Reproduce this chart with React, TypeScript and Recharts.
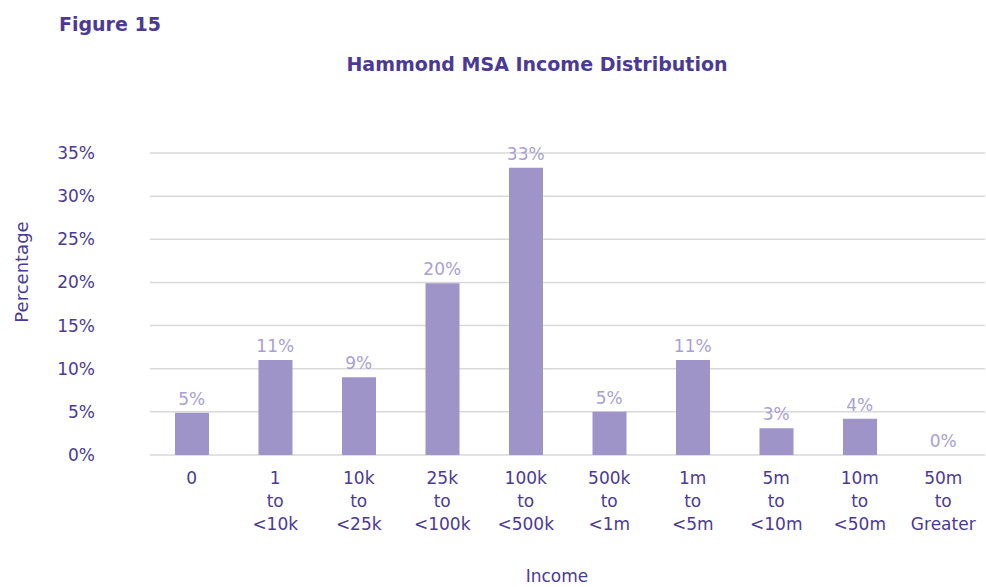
import { ComposedChart, Bar, Line, XAxis, YAxis, CartesianGrid, LabelList } from 'recharts'

const categories = [
  '0',
  '1|to|<10k',
  '10k|to|<25k',
  '25k|to|<100k',
  '100k|to|<500k',
  '500k|to|<1m',
  '1m|to|<5m',
  '5m|to|<10m',
  '10m|to|<50m',
  '50m|to|Greater',
]
const percentages = [4.9, 11.0, 9.0, 19.9, 33.3, 5.0, 11.0, 3.1, 4.2, 0]
const yTicks = [0, 5, 10, 15, 20, 25, 30, 35]

const data = categories.map((c, i) => ({ name: c, value: percentages[i] }))

const dark = '#4b3a94'
const barColor = '#9e94c7'
const labelColor = '#a9a0d2'
const font = '"DejaVu Sans", "Noto Sans", sans-serif'

function MultiLineTick(props: any) {
  const { x, y, payload } = props
  const lines = String(payload.value).split('|')
  return (
    <text x={x} y={y} textAnchor="middle" fill={dark} fontSize={17} fontFamily={font}>
      {lines.map((l, i) => (
        <tspan key={i} x={x} dy={i === 0 ? 21 : 23}>
          {l}
        </tspan>
      ))}
    </text>
  )
}

export default function App() {
  return (
    <div style={{ position: 'relative', width: 986, height: 587, fontFamily: font, background: '#fff' }}>
      <style>{`body{margin:0}`}</style>
      <div style={{ position: 'absolute', left: 59, top: 13, fontSize: 19, fontWeight: 700, color: dark }}>
        Figure 15
      </div>
      <div
        style={{
          position: 'absolute',
          left: 0,
          width: 1074,
          top: 53,
          textAlign: 'center',
          fontSize: 19,
          fontWeight: 700,
          color: dark,
        }}
      >
        Hammond MSA Income Distribution
      </div>
      <div
        style={{
          position: 'absolute',
          left: 0,
          width: 1114,
          top: 566,
          textAlign: 'center',
          fontSize: 17,
          color: dark,
        }}
      >
        Income
      </div>
      <div
        style={{
          position: 'absolute',
          left: 21,
          top: 272,
          transform: 'translate(-50%, -50%) rotate(-90deg)',
          fontSize: 18,
          color: dark,
          whiteSpace: 'nowrap',
        }}
      >
        Percentage
      </div>
      <ComposedChart
        width={986}
        height={587}
        data={data}
        margin={{ top: 153, right: 1, bottom: 0, left: 0 }}
        barSize={34}
        style={{ position: 'absolute', left: 0, top: 0 }}
      >
        <CartesianGrid vertical={false} stroke="#d9d9d9" strokeWidth={1.5} />
        <XAxis
          dataKey="name"
          height={132}
          axisLine={false}
          tickLine={false}
          interval={0}
          tick={<MultiLineTick />}
        />
        <YAxis
          width={150}
          domain={[0, 35]}
          ticks={yTicks}
          axisLine={false}
          tickLine={false}
          tickMargin={49}
          tickFormatter={(v: number) => `${v}%`}
          tick={{ fill: dark, fontSize: 17, fontFamily: font }}
        />
        <Bar dataKey="value" fill={barColor} isAnimationActive={false} />
        <Line
          dataKey="value"
          stroke="none"
          dot={false}
          activeDot={false}
          isAnimationActive={false}
        >
          <LabelList
            dataKey="value"
            position="top"
            offset={8}
            fill={labelColor}
            fontSize={17}
            fontFamily={font}
            formatter={(v: any) => `${Math.round(Number(v))}%`}
          />
        </Line>
      </ComposedChart>
    </div>
  )
}
